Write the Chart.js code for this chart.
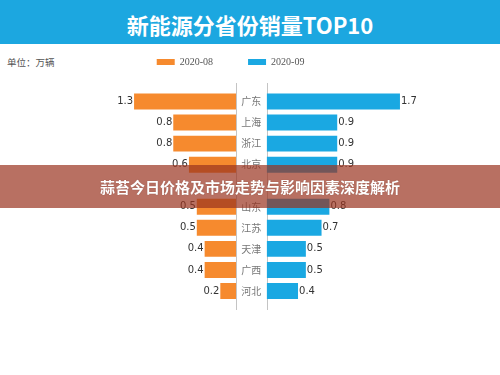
<!DOCTYPE html>
<html>
<head>
<meta charset="utf-8">
<script src="https://cdn.jsdelivr.net/npm/chart.js@4"></script>
<style>
html,body{margin:0;padding:0;background:#fff;width:500px;height:375px;overflow:hidden;}
#header{position:absolute;left:0;top:0;width:500px;height:44px;background:#1ca7e0;color:#fff;font-family:"Noto Sans CJK SC",sans-serif;font-weight:700;font-size:22px;text-align:center;line-height:44px;padding-top:2px;box-sizing:border-box;}
#unit{position:absolute;left:7px;top:55px;font-family:"Noto Sans CJK SC",sans-serif;font-size:9.5px;color:#555;line-height:14px;}
#wrap{position:absolute;left:0;top:0;width:500px;height:375px;}
#banner{position:absolute;left:0;top:165px;width:500px;height:43px;background:rgba(154,51,31,0.7);color:#fff;font-family:"Noto Sans CJK SC",sans-serif;font-weight:700;font-size:15px;text-align:center;line-height:43px;text-shadow:0 0 1px rgba(80,20,10,0.5);}
</style>
</head>
<body>
<div id="header">新能源分省份销量TOP10</div>
<div id="unit">单位：万辆</div>
<div id="wrap"><canvas id="c" width="500" height="375"></canvas></div>
<div id="banner">蒜苔今日价格及市场走势与影响因素深度解析</div>
<script>
// Data (单位：万辆). The 5th row is hidden under the banner in the source image.
const provinces = ['广东', '上海', '浙江', '北京', '', '山东', '江苏', '天津', '广西', '河北'];
const sales2020_08 = [1.3, 0.8, 0.8, 0.6, null, 0.5, 0.5, 0.4, 0.4, 0.2];
const sales2020_09 = [1.7, 0.9, 0.9, 0.9, null, 0.8, 0.7, 0.5, 0.5, 0.4];
const seriesNames = ['2020-08', '2020-09'];

const centerLines = {
  id: 'centerLines',
  beforeDatasetsDraw(chart) {
    const s = chart.scales.xMid, a = chart.chartArea, ctx = chart.ctx;
    ctx.save();
    ctx.strokeStyle = '#c4c4c4';
    ctx.lineWidth = 1;
    [0, 1].forEach(v => {
      const x = Math.round(s.getPixelForValue(v)) + 0.5;
      ctx.beginPath();
      ctx.moveTo(x, a.top - 8);
      ctx.lineTo(x, a.bottom + 8.5);
      ctx.stroke();
    });
    ctx.restore();
  }
};

const valueLabels = {
  id: 'valueLabels',
  afterDatasetsDraw(chart) {
    const ctx = chart.ctx;
    ctx.save();
    ctx.font = '10px "DejaVu Sans", sans-serif';
    ctx.fillStyle = '#333';
    ctx.textBaseline = 'middle';
    chart.data.datasets.forEach((ds, i) => {
      const meta = chart.getDatasetMeta(i);
      meta.data.forEach((el, j) => {
        const v = ds.data[j];
        if (v == null) return;
        ctx.textAlign = i === 0 ? 'right' : 'left';
        ctx.fillText(v.toFixed(1), i === 0 ? el.x - 1 : el.x + 1, el.y);
      });
    });
    ctx.restore();
  }
};

const fit14 = s => { s.height = 14; };

new Chart(document.getElementById('c'), {
  type: 'bar',
  data: {
    labels: provinces,
    datasets: [
      { label: seriesNames[0], data: sales2020_08, xAxisID: 'xL', yAxisID: 'y', backgroundColor: '#f68a2e' },
      { label: seriesNames[1], data: sales2020_09, xAxisID: 'xR', yAxisID: 'y', backgroundColor: '#1aa8e2' }
    ]
  },
  options: {
    indexAxis: 'y',
    responsive: false,
    animation: false,
    devicePixelRatio: 1,
    grouped: false,
    categoryPercentage: 1,
    barPercentage: 0.76,
    layout: { padding: { left: 53.3, right: 92.2, top: 22, bottom: 73.5 } },
    scales: {
      xL: { type: 'linear', axis: 'x', position: 'top', stack: 'h', stackWeight: 2.33, weight: 3, reverse: true, min: 0, max: 2.33, display: false, afterFit: fit14 },
      xMid: { type: 'linear', axis: 'x', position: 'top', stack: 'h', stackWeight: 0.391, weight: 2, min: 0, max: 1, display: false, afterFit: fit14 },
      xR: { type: 'linear', axis: 'x', position: 'top', stack: 'h', stackWeight: 1.8, weight: 1, min: 0, max: 1.8, display: false, afterFit: fit14 },
      y: {
        type: 'category',
        position: { xMid: 0.82 },
        offset: true,
        grid: { display: false, drawTicks: false, tickLength: 0 },
        border: { display: false },
        ticks: { padding: 0, color: '#777', font: { family: 'Noto Sans CJK SC', size: 10 } }
      }
    },
    plugins: {
      legend: {
        position: 'top',
        align: 'center',
        labels: { boxWidth: 18, boxHeight: 6, padding: 35, color: '#555', font: { family: 'Liberation Serif', size: 10 } }
      },
      tooltip: { enabled: false }
    }
  },
  plugins: [centerLines, valueLabels]
});
</script>
</body>
</html>
